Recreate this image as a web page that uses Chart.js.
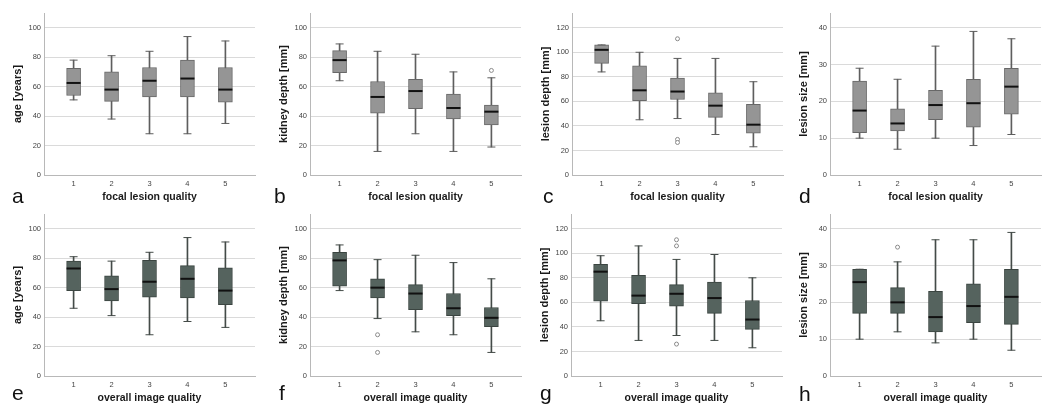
<!DOCTYPE html>
<html>
<head>
<meta charset="utf-8">
<script src="https://cdn.jsdelivr.net/npm/chart.js@4.4.0/dist/chart.umd.min.js"></script>
<style>
  html, body { margin: 0; padding: 0; background: #fff; }
  body { width: 1046px; height: 405px; position: relative; overflow: hidden;
         font-family: "Liberation Sans", Arial, sans-serif; }
  .panel { position: absolute; width: 264px; height: 210px; }
  .tag { position: absolute; font-size: 21px; line-height: 21px; color: #111; }
</style>
</head>
<body>
<script>
// categories on the x axis (quality score)
const categories = ['1', '2', '3', '4', '5'];
const catX = [1, 2, 3, 4, 5];

// each row: [whisker low, Q1, median, Q3, whisker high]
const focalAge = [[51, 54, 62.5, 72.5, 78], [38, 50, 58, 70, 81], [28, 53, 64, 73, 84], [28, 53, 65.5, 78, 94], [35, 49.5, 58, 73, 91]];
const focalKidney = [[64, 69.5, 78, 84.5, 89], [16, 42, 53, 63.5, 84], [28, 45, 57, 65, 82], [16, 38, 45.5, 55, 70], [19, 34, 43, 47.5, 66]];
const focalLesionDepth = [[84, 91, 102, 106, 106], [45, 60.5, 69, 89, 100], [46, 61.5, 68, 79, 95], [33, 47, 56.5, 67, 95], [23, 34, 41, 57.5, 76]];
const focalLesionSize = [[10, 11.5, 17.5, 25.5, 29], [7, 12, 14, 18, 26], [10, 15, 19, 23, 35], [8, 13, 19.5, 26, 39], [11, 16.5, 24, 29, 37]];
const overallAge = [[46, 58, 73, 78, 81], [41, 51, 59, 68, 78], [28, 53.5, 64, 78.5, 84], [37, 53, 66, 75, 94], [33, 48.5, 58, 73.5, 91]];
const overallKidney = [[58, 61, 78.5, 84, 89], [39, 53, 60, 66, 79], [30, 45, 56, 62, 82], [28, 41, 46, 56, 77], [16, 33.5, 39.5, 46.5, 66]];
const overallLesionDepth = [[45, 61, 85, 91, 98], [29, 59, 65.5, 82, 106], [33, 57, 67, 74.5, 95], [29, 51, 63.5, 76.5, 99], [23, 38, 46, 61.5, 80]];
const overallLesionSize = [[10, 17, 25.5, 29, 29], [12, 17, 20, 24, 31], [9, 12, 16, 23, 37], [10, 14.5, 19, 25, 37], [7, 14, 21.5, 29, 39]];

// outliers: [category, value]
const focalKidneyOut = [[5, 71]];
const focalLesionDepthOut = [[3, 111], [3, 29], [3, 26.5]];
const overallKidneyOut = [[2, 28], [2, 16]];
const overallLesionDepthOut = [[3, 111], [3, 106], [3, 26]];
const overallLesionSizeOut = [[2, 35]];

const FONT = '"Liberation Sans", Arial, sans-serif';

const panels = [
  { tag: 'a', rows: focalAge, out: [], yTitle: 'age [years]', xTitle: 'focal lesion quality', yMax: 110, step: 20, left: 44, top: 13, dark: false, tagX: 12, tagY: 185 },
  { tag: 'b', rows: focalKidney, out: focalKidneyOut, yTitle: 'kidney depth [mm]', xTitle: 'focal lesion quality', yMax: 110, step: 20, left: 310, top: 13, dark: false, tagX: 274, tagY: 185 },
  { tag: 'c', rows: focalLesionDepth, out: focalLesionDepthOut, yTitle: 'lesion depth [mm]', xTitle: 'focal lesion quality', yMax: 132, step: 20, left: 572, top: 13, dark: false, tagX: 543, tagY: 185 },
  { tag: 'd', rows: focalLesionSize, out: [], yTitle: 'lesion size [mm]', xTitle: 'focal lesion quality', yMax: 44, step: 10, left: 830, top: 13, dark: false, tagX: 799, tagY: 185 },
  { tag: 'e', rows: overallAge, out: [], yTitle: 'age [years]', xTitle: 'overall image quality', yMax: 110, step: 20, left: 44, top: 214, dark: true, tagX: 12, tagY: 382 },
  { tag: 'f', rows: overallKidney, out: overallKidneyOut, yTitle: 'kidney depth [mm]', xTitle: 'overall image quality', yMax: 110, step: 20, left: 310, top: 214, dark: true, tagX: 279, tagY: 382 },
  { tag: 'g', rows: overallLesionDepth, out: overallLesionDepthOut, yTitle: 'lesion depth [mm]', xTitle: 'overall image quality', yMax: 132, step: 20, left: 571, top: 214, dark: true, tagX: 540, tagY: 382 },
  { tag: 'h', rows: overallLesionSize, out: overallLesionSizeOut, yTitle: 'lesion size [mm]', xTitle: 'overall image quality', yMax: 44, step: 10, left: 830, top: 214, dark: true, tagX: 799, tagY: 383 }
];

function makePanel(p){
  const wrap = document.createElement('div');
  wrap.className = 'panel';
  wrap.style.left = (p.left - 44) + 'px';
  wrap.style.top = (p.top - 13) + 'px';
  const cv = document.createElement('canvas');
  cv.width = 264; cv.height = 210;
  wrap.appendChild(cv);
  document.body.appendChild(wrap);

  const tag = document.createElement('div');
  tag.className = 'tag';
  tag.textContent = p.tag;
  tag.style.left = p.tagX + 'px';
  tag.style.top = p.tagY + 'px';
  document.body.appendChild(tag);

  const fill = p.dark ? '#55635e' : '#959595';
  const edge = p.dark ? '#3b4541' : '#686868';
  const whisk = p.dark ? '#444b48' : '#5e5e5e';
  const rows = p.rows;

  new Chart(cv, {
    type: 'bar',
    data: {
      datasets: [
        { type: 'scatter', order: 0,
          data: rows.map((r, i) => ({ x: catX[i], y: r[2] })),
          pointStyle: 'line', pointRadius: 7, pointBorderColor: '#111', pointBorderWidth: 2 },
        { type: 'scatter', order: 0,
          data: p.out.map(o => ({ x: o[0], y: o[1] })),
          pointStyle: 'circle', pointRadius: 2, pointBorderColor: '#8a8a8a', pointBackgroundColor: '#fff', pointBorderWidth: 1 },
        { type: 'scatter', order: 1,
          data: rows.flatMap((r, i) => [{ x: catX[i], y: r[0] }, { x: catX[i], y: r[4] }]),
          pointStyle: 'line', pointRadius: 4, pointBorderColor: whisk, pointBorderWidth: 1 },
        { order: 2, grouped: false, barThickness: 14,
          data: rows.map((r, i) => ({ x: catX[i], y: [r[1], r[3]] })),
          backgroundColor: fill, borderColor: edge, borderWidth: 1, borderSkipped: false },
        { order: 3, grouped: false, barThickness: 1,
          data: rows.map((r, i) => ({ x: catX[i], y: [r[0], r[4]] })),
          backgroundColor: whisk, borderWidth: 0 }
      ]
    },
    options: {
      responsive: false,
      animation: false,
      events: [],
      layout: { padding: { top: 13, left: 0, right: 0, bottom: 0 } },
      plugins: { legend: { display: false }, tooltip: { enabled: false } },
      scales: {
        x: {
          type: 'linear', min: 0.22, max: 5.78, offset: false,
          grid: { display: false, drawTicks: false, offset: false },
          border: { color: '#b8b8b8' },
          afterBuildTicks: s => { s.ticks = catX.map(v => ({ value: v })); },
          ticks: { autoSkip: false, maxRotation: 0, padding: 4, color: '#444',
                   font: { size: 7.5, family: FONT },
                   callback: v => categories[catX.indexOf(v)] ?? '' },
          title: { display: true, text: p.xTitle, color: '#1a1a1a',
                   font: { size: 10.5, weight: 'bold', family: FONT },
                   padding: { top: 0, bottom: 7 } },
          afterFit: s => { s.height = 35; }
        },
        y: {
          min: 0, max: p.yMax,
          grid: { color: '#dadada', drawTicks: false },
          border: { color: '#b8b8b8' },
          ticks: { stepSize: p.step, includeBounds: false, padding: 3, color: '#444',
                   font: { size: 7.5, family: FONT } },
          title: { display: true, text: p.yTitle, color: '#1a1a1a',
                   font: { size: 11, weight: 'bold', family: FONT },
                   padding: { top: 11.4, bottom: 0 } },
          afterFit: s => { s.width = 44; }
        }
      }
    }
  });
}

panels.forEach(makePanel);
</script>
</body>
</html>
